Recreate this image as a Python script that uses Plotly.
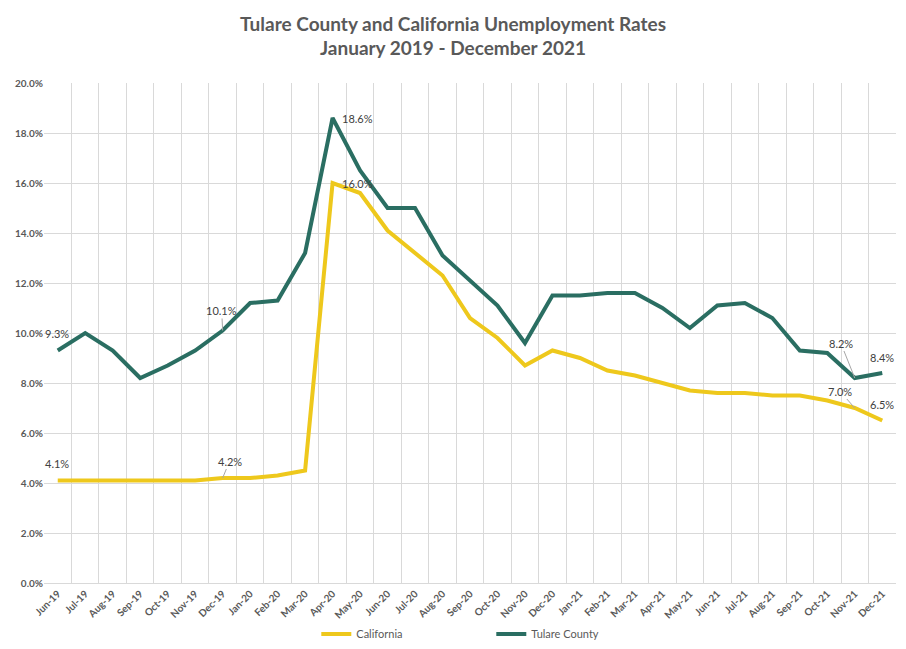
import plotly.graph_objects as go

# monthly categories shown on the x axis
months = [
    "Jun-19", "Jul-19", "Aug-19", "Sep-19", "Oct-19", "Nov-19", "Dec-19",
    "Jan-20", "Feb-20", "Mar-20", "Apr-20", "May-20", "Jun-20", "Jul-20",
    "Aug-20", "Sep-20", "Oct-20", "Nov-20", "Dec-20", "Jan-21", "Feb-21",
    "Mar-21", "Apr-21", "May-21", "Jun-21", "Jul-21", "Aug-21", "Sep-21",
    "Oct-21", "Nov-21", "Dec-21",
]

# unemployment rate, percent
california = [
    4.1, 4.1, 4.1, 4.1, 4.1, 4.1, 4.2,
    4.2, 4.3, 4.5, 16.0, 15.6, 14.1, 13.2,
    12.3, 10.6, 9.8, 8.7, 9.3, 9.0, 8.5,
    8.3, 8.0, 7.7, 7.6, 7.6, 7.5, 7.5,
    7.3, 7.0, 6.5,
]
tulare = [
    9.3, 10.0, 9.3, 8.2, 8.7, 9.3, 10.1,
    11.2, 11.3, 13.2, 18.6, 16.5, 15.0, 15.0,
    13.1, 12.1, 11.1, 9.6, 11.5, 11.5, 11.6,
    11.6, 11.0, 10.2, 11.1, 11.2, 10.6, 9.3,
    9.2, 8.2, 8.4,
]

YELLOW = "#EEC81C"
GREEN = "#2A6E62"
GREY_TXT = "#595959"
LABEL_TXT = "#404040"
FONT = "Lato, Liberation Sans, sans-serif"

fig = go.Figure()

fig.add_trace(
    go.Scatter(
        x=months,
        y=california,
        mode="lines",
        name="California",
        line=dict(color=YELLOW, width=4),
    )
)

fig.add_trace(
    go.Scatter(
        x=months,
        y=tulare,
        mode="lines",
        name="Tulare County",
        line=dict(color=GREEN, width=4),
    )
)

# data labels: (series, month index, xshift, yshift) without leader
plain_labels = [
    (tulare, 0, -1, 17),
    (california, 0, -1, 17),
    (tulare, 10, 25, 0),
    (california, 10, 25, 0),
    (tulare, 30, 0, 16),
    (california, 30, 0, 16),
]
for series, i, dx, dy in plain_labels:
    fig.add_annotation(
        x=months[i],
        y=series[i],
        text=f"{series[i]:.1f}%",
        showarrow=False,
        xshift=dx,
        yshift=dy,
        font=dict(family=FONT, size=11, color=LABEL_TXT),
    )

# data labels with small leader lines
leader_labels = [
    (tulare, 6, -1, -20),
    (california, 6, 7, -17),
    (tulare, 29, -14, -35),
    (california, 29, -15, -17),
]
for series, i, ax, ay in leader_labels:
    fig.add_annotation(
        x=months[i],
        y=series[i],
        text=f"{series[i]:.1f}%",
        showarrow=True,
        arrowhead=0,
        arrowwidth=1,
        arrowcolor="#A6A6A6",
        standoff=0,
        ax=ax,
        ay=ay,
        font=dict(family=FONT, size=11, color=LABEL_TXT),
    )

# page body adds 8px around the figure, so the figure is 16px smaller than the window
fig.update_layout(
    width=890,
    height=633,
    margin=dict(l=36, r=2, t=75, b=58),
    paper_bgcolor="white",
    plot_bgcolor="white",
    title=dict(
        text="Tulare County and California Unemployment Rates<br>January 2019 - December 2021",
        x=0.5,
        xanchor="center",
        y=0.964,
        yanchor="top",
        font=dict(family=FONT, size=19, color=GREY_TXT, weight="bold"),
    ),
    showlegend=True,
    legend=dict(
        orientation="h",
        x=0.525,
        xanchor="center",
        yref="container",
        y=0.034,
        yanchor="top",
        bgcolor="rgba(0,0,0,0)",
        font=dict(family=FONT, size=11, color=GREY_TXT),
        entrywidth=130,
        itemwidth=30,
    ),
    xaxis=dict(
        type="category",
        range=[-0.5, 30.5],
        tickson="boundaries",
        automargin=False,
        showgrid=True,
        gridcolor="#D9D9D9",
        gridwidth=1,
        showline=True,
        linecolor="#D9D9D9",
        ticks="",
        tickangle=-45,
        tickfont=dict(family=FONT, size=10, color=GREY_TXT, weight="bold"),
        zeroline=False,
    ),
    yaxis=dict(
        range=[0, 20],
        dtick=2,
        tickformat=".1f",
        ticksuffix="%",
        automargin=False,
        showgrid=True,
        gridcolor="#D9D9D9",
        gridwidth=1,
        zeroline=False,
        showline=False,
        ticks="",
        tickfont=dict(family=FONT, size=10, color=GREY_TXT, weight="bold"),
    ),
)

fig.write_html("out.html")
